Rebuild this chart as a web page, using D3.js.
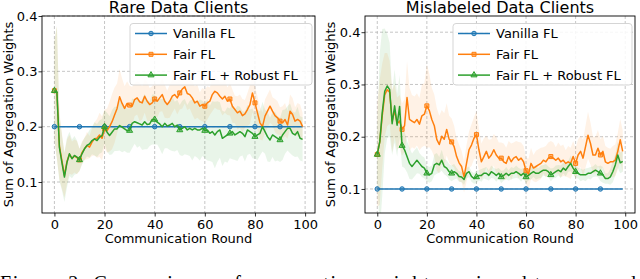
<!DOCTYPE html>
<html>
<head>
<meta charset="utf-8">
<script src="https://cdn.jsdelivr.net/npm/d3@7"></script>
<style>
  body { margin: 0; background: #fff; }
  svg { display: block; }
  text { font-family: "DejaVu Sans", sans-serif; fill: #000; }
</style>
</head>
<body>
<svg id="fig" width="640" height="279"></svg>
<script>
// ---- data ----
var rounds = d3.range(100);
var markerRounds = [0, 10, 20, 30, 40, 50, 60, 70, 80, 90];
var seriesNames = ["Vanilla FL", "Fair FL", "Fair FL + Robust FL"];
var xTicks = [0, 20, 40, 60, 80, 100];
var yTicksRare = [0.1, 0.2, 0.3, 0.4];
var yTicksMis = [0.1, 0.2, 0.3, 0.4];

// Rare Data Clients
var rareVanilla = [
  .2,.2,.2,.2,.2,.2,.2,.2,.2,.2, .2,.2,.2,.2,.2,.2,.2,.2,.2,.2,
  .2,.2,.2,.2,.2,.2,.2,.2,.2,.2, .2,.2,.2,.2,.2,.2,.2,.2,.2,.2,
  .2,.2,.2,.2,.2,.2,.2,.2,.2,.2, .2,.2,.2,.2,.2,.2,.2,.2,.2,.2,
  .2,.2,.2,.2,.2,.2,.2,.2,.2,.2, .2,.2,.2,.2,.2,.2,.2,.2,.2,.2,
  .2,.2,.2,.2,.2,.2,.2,.2,.2,.2, .2,.2,.2,.2,.2,.2,.2,.2,.2,.2];
var rareFair = [
  .265,.262,.165,.138,.112,.137,.150,.143,.147,.144,
  .140,.153,.160,.166,.163,.172,.178,.179,.185,.179,
  .196,.193,.200,.209,.221,.233,.254,.242,.233,.242,
  .239,.237,.249,.252,.245,.243,.255,.246,.240,.243,
  .250,.246,.252,.258,.246,.240,.246,.255,.258,.252,
  .261,.268,.272,.260,.258,.252,.243,.246,.237,.240,
  .237,.243,.246,.258,.264,.261,.255,.250,.255,.246,
  .250,.237,.231,.225,.228,.220,.223,.231,.240,.261,
  .243,.225,.207,.200,.219,.228,.237,.228,.220,.216,
  .210,.207,.213,.203,.228,.222,.210,.213,.210,.200];
var rareRobust = [
  .265,.262,.162,.135,.109,.135,.151,.142,.148,.145,
  .140,.151,.160,.166,.169,.175,.178,.175,.181,.184,
  .200,.190,.184,.190,.196,.196,.202,.199,.196,.193,
  .193,.206,.209,.207,.205,.203,.209,.204,.205,.213,
  .213,.208,.205,.200,.206,.201,.203,.206,.200,.203,
  .194,.197,.200,.194,.197,.194,.197,.194,.194,.197,
  .193,.194,.188,.191,.185,.191,.194,.179,.182,.185,
  .188,.191,.185,.188,.191,.188,.182,.194,.191,.188,
  .182,.185,.188,.200,.191,.182,.176,.185,.182,.179,
  .176,.185,.191,.197,.197,.188,.185,.191,.179,.177];
var rareFairStd = [
  .09,.12,.06,.05,.04,.04,.035,.03,.03,.03,
  .02,.02,.02,.025,.02,.025,.03,.035,.04,.04,
  .035,.04,.045,.05,.05,.045,.05,.045,.04,.04,
  .035,.035,.03,.03,.035,.03,.03,.035,.03,.03,
  .03,.03,.025,.03,.03,.025,.03,.03,.025,.03,
  .03,.035,.03,.03,.025,.03,.03,.03,.025,.03,
  .03,.03,.025,.03,.03,.03,.025,.03,.03,.025,
  .03,.03,.025,.03,.03,.03,.025,.03,.035,.035,
  .03,.03,.03,.025,.03,.03,.03,.025,.03,.03,
  .025,.03,.03,.025,.03,.03,.025,.03,.03,.025];
var rareRobustStd = [
  .09,.12,.06,.05,.045,.045,.04,.035,.035,.03,
  .02,.02,.02,.02,.025,.025,.03,.03,.03,.03,
  .03,.035,.035,.04,.04,.04,.045,.045,.04,.04,
  .04,.045,.04,.045,.04,.045,.05,.045,.04,.045,
  .045,.04,.045,.05,.045,.04,.045,.05,.045,.045,
  .045,.05,.05,.045,.05,.055,.05,.05,.055,.05,
  .05,.055,.05,.055,.06,.055,.05,.05,.045,.05,
  .045,.05,.045,.05,.045,.04,.045,.045,.04,.045,
  .04,.045,.04,.045,.04,.045,.04,.04,.045,.04,
  .04,.045,.04,.04,.045,.04,.04,.045,.04,.04];

// Mislabeled Data Clients
var misVanilla = [
  .1,.1,.1,.1,.1,.1,.1,.1,.1,.1, .1,.1,.1,.1,.1,.1,.1,.1,.1,.1,
  .1,.1,.1,.1,.1,.1,.1,.1,.1,.1, .1,.1,.1,.1,.1,.1,.1,.1,.1,.1,
  .1,.1,.1,.1,.1,.1,.1,.1,.1,.1, .1,.1,.1,.1,.1,.1,.1,.1,.1,.1,
  .1,.1,.1,.1,.1,.1,.1,.1,.1,.1, .1,.1,.1,.1,.1,.1,.1,.1,.1,.1,
  .1,.1,.1,.1,.1,.1,.1,.1,.1,.1, .1,.1,.1,.1,.1,.1,.1,.1,.1,.1];
var misFair = [
  .166,.190,.240,.280,.290,.285,.230,.250,.225,.230,
  .214,.221,.275,.233,.230,.227,.233,.224,.240,.243,
  .259,.250,.233,.221,.195,.185,.201,.195,.214,.195,
  .190,.181,.162,.150,.143,.123,.149,.175,.184,.197,
  .204,.175,.152,.162,.172,.159,.165,.175,.165,.159,
  .159,.152,.149,.162,.152,.159,.162,.155,.159,.152,
  .135,.128,.149,.140,.143,.146,.149,.155,.152,.159,
  .162,.159,.155,.159,.152,.155,.149,.152,.149,.162,
  .149,.165,.172,.159,.181,.203,.187,.165,.165,.178,
  .165,.172,.152,.149,.152,.152,.155,.172,.194,.172];
var misRobust = [
  .166,.190,.246,.287,.297,.290,.225,.259,.222,.258,
  .183,.175,.162,.149,.143,.149,.155,.149,.143,.140,
  .130,.127,.130,.146,.149,.146,.155,.143,.140,.133,
  .130,.133,.130,.124,.123,.118,.130,.133,.124,.120,
  .123,.126,.126,.130,.130,.126,.133,.130,.126,.130,
  .123,.126,.130,.126,.130,.130,.133,.130,.126,.130,
  .123,.126,.130,.133,.130,.130,.133,.136,.136,.133,
  .127,.130,.133,.136,.133,.140,.136,.143,.149,.140,
  .133,.130,.127,.127,.127,.130,.130,.133,.136,.133,
  .130,.127,.120,.120,.123,.133,.146,.165,.150,.153];
var misFairStd = [
  .10,.12,.10,.08,.07,.06,.06,.05,.05,.05,
  .05,.05,.07,.06,.05,.05,.05,.05,.06,.06,
  .08,.07,.06,.06,.06,.055,.05,.05,.05,.045,
  .045,.04,.035,.035,.03,.03,.035,.035,.04,.04,
  .045,.04,.035,.035,.03,.035,.03,.03,.035,.03,
  .03,.035,.03,.03,.035,.03,.03,.035,.03,.03,
  .025,.03,.03,.025,.03,.03,.03,.025,.03,.03,
  .03,.03,.025,.03,.03,.03,.025,.03,.03,.03,
  .03,.03,.03,.035,.04,.045,.04,.035,.035,.035,
  .03,.03,.03,.03,.025,.03,.03,.035,.04,.04];
var misRobustStd = [
  .05,.17,.16,.12,.10,.09,.06,.07,.06,.06,
  .04,.035,.03,.03,.025,.025,.025,.02,.02,.02,
  .015,.015,.015,.02,.02,.015,.02,.015,.015,.015,
  .015,.015,.01,.01,.01,.01,.01,.01,.01,.01,
  .012,.01,.012,.01,.012,.01,.012,.01,.012,.01,
  .012,.01,.012,.01,.012,.01,.012,.01,.012,.01,
  .012,.01,.012,.01,.012,.01,.012,.01,.012,.01,
  .012,.01,.012,.01,.012,.01,.012,.01,.015,.012,
  .012,.01,.012,.01,.012,.01,.012,.01,.012,.01,
  .015,.015,.01,.01,.015,.02,.02,.025,.02,.02];

var colors = ["#1f77b4", "#ff7f0e", "#2ca02c"];
var shapes = [d3.symbolCircle, d3.symbolSquare, d3.symbolTriangle];
var shapeSizes = [16, 16, 16];

var svg = d3.select("#fig");

function drawPanel(cfg) {
  var x = d3.scaleLinear().domain([-4.95, 103.95]).range([cfg.left, cfg.right]);
  var y = d3.scaleLinear().domain(cfg.yDomain).range([213, 16]);
  var g = svg.append("g");
  var clipId = "clip" + cfg.id;

  g.append("clipPath").attr("id", clipId)
    .append("rect")
    .attr("x", cfg.left).attr("y", 16)
    .attr("width", cfg.right - cfg.left).attr("height", 197);

  // grid
  g.selectAll(".gx").data(xTicks).enter().append("line")
    .attr("x1", function (d) { return x(d); }).attr("x2", function (d) { return x(d); })
    .attr("y1", 16).attr("y2", 213)
    .attr("stroke", "#b8b8b8").attr("stroke-width", 0.8).attr("stroke-dasharray", "3,2");
  g.selectAll(".gy").data(cfg.yTicks).enter().append("line")
    .attr("x1", cfg.left).attr("x2", cfg.right)
    .attr("y1", function (d) { return y(d); }).attr("y2", function (d) { return y(d); })
    .attr("stroke", "#b8b8b8").attr("stroke-width", 0.8).attr("stroke-dasharray", "3,2");

  var plot = g.append("g").attr("clip-path", "url(#" + clipId + ")");

  // std bands
  var bands = [null, cfg.fairStd, cfg.robustStd];
  var series = [cfg.vanilla, cfg.fair, cfg.robust];
  [1, 2].forEach(function (k) {
    var area = d3.area()
      .x(function (d) { return x(d); })
      .y0(function (d) { return y(series[k][d] - bands[k][d]); })
      .y1(function (d) { return y(series[k][d] + bands[k][d]); });
    plot.append("path").datum(rounds)
      .attr("d", area)
      .attr("fill", colors[k]).attr("fill-opacity", 0.1);
  });

  // lines + markers
  series.forEach(function (vals, k) {
    var line = d3.line()
      .x(function (d) { return x(d); })
      .y(function (d) { return y(vals[d]); });
    plot.append("path").datum(rounds)
      .attr("d", line)
      .attr("fill", "none").attr("stroke", colors[k]).attr("stroke-width", 1.5)
      .attr("stroke-linejoin", "round");
    plot.selectAll(".m" + k).data(markerRounds).enter().append("path")
      .attr("d", d3.symbol().type(shapes[k]).size(shapeSizes[k]))
      .attr("transform", function (d) { return "translate(" + x(d) + "," + y(vals[d]) + ")"; })
      .attr("fill", colors[k]).attr("fill-opacity", 0.5)
      .attr("stroke", colors[k]).attr("stroke-width", 1);
  });

  // axes
  var xAxis = g.append("g").attr("transform", "translate(0,213)")
    .call(d3.axisBottom(x).tickValues(xTicks).tickSize(3.5).tickPadding(3));
  var yAxis = g.append("g").attr("transform", "translate(" + cfg.left + ",0)")
    .call(d3.axisLeft(y).tickValues(cfg.yTicks).tickSize(3.5).tickPadding(1)
      .tickFormat(d3.format(".1f")));
  [xAxis, yAxis].forEach(function (a) {
    a.select(".domain").remove();
    a.selectAll("text").style("font-size", "13px").style("font-family", "DejaVu Sans").attr("fill", "#000");
    a.selectAll("line").attr("stroke", "#000").attr("stroke-width", 0.8);
  });

  // spines
  g.append("rect")
    .attr("x", cfg.left).attr("y", 16)
    .attr("width", cfg.right - cfg.left).attr("height", 197)
    .attr("fill", "none").attr("stroke", "#000").attr("stroke-width", 0.9);

  // title and labels
  g.append("text").attr("x", (cfg.left + cfg.right) / 2).attr("y", 13)
    .attr("text-anchor", "middle").style("font-size", "16px").text(cfg.title);
  g.append("text").attr("x", (cfg.left + cfg.right) / 2).attr("y", 243)
    .attr("text-anchor", "middle").style("font-size", "13px").text("Communication Round");
  g.append("text")
    .attr("transform", "translate(" + cfg.ylabelX + "," + 114.5 + ") rotate(-90)")
    .attr("text-anchor", "middle").style("font-size", "13px").text("Sum of Aggregation Weights");

  // legend
  var lg = g.append("g");
  lg.append("rect")
    .attr("x", cfg.legX).attr("y", 23.5)
    .attr("width", cfg.legW).attr("height", 61.5).attr("rx", 3)
    .attr("fill", "#fff").attr("fill-opacity", 0.85)
    .attr("stroke", "#d0d0d0").attr("stroke-width", 0.9);
  seriesNames.forEach(function (name, k) {
    var ly = 33.5 + k * 20.8;
    var x0 = cfg.legX + 5, x1 = cfg.legX + 37;
    lg.append("line").attr("x1", x0).attr("x2", x1).attr("y1", ly).attr("y2", ly)
      .attr("stroke", colors[k]).attr("stroke-width", 1.5);
    lg.append("path")
      .attr("d", d3.symbol().type(shapes[k]).size(shapeSizes[k]))
      .attr("transform", "translate(" + (x0 + x1) / 2 + "," + ly + ")")
      .attr("fill", colors[k]).attr("fill-opacity", 0.5)
      .attr("stroke", colors[k]).attr("stroke-width", 1);
    lg.append("text").attr("x", cfg.legX + 43).attr("y", ly + 4.7)
      .style("font-size", "13px").text(name);
  });
}

drawPanel({
  id: "A", left: 42, right: 315, yDomain: [0.044, 0.40], yTicks: yTicksRare,
  vanilla: rareVanilla, fair: rareFair, robust: rareRobust,
  fairStd: rareFairStd, robustStd: rareRobustStd,
  title: "Rare Data Clients", ylabelX: 12.5, legX: 130, legW: 182
});
drawPanel({
  id: "B", left: 365, right: 635, yDomain: [0.054, 0.431], yTicks: yTicksMis,
  vanilla: misVanilla, fair: misFair, robust: misRobust,
  fairStd: misFairStd, robustStd: misRobustStd,
  title: "Mislabeled Data Clients", ylabelX: 334.5, legX: 453, legW: 179
});

// caption, cut off by the bottom edge
svg.append("text")
  .attr("x", 0).attr("y", 290)
  .attr("textLength", 636).attr("lengthAdjust", "spacing")
  .style("font-family", "Liberation Serif, serif").style("font-size", "20px")
  .attr("fill", "#222")
  .text("Figure 2: Comparisons of aggregation weights assigned to rare and");
</script>
</body>
</html>
